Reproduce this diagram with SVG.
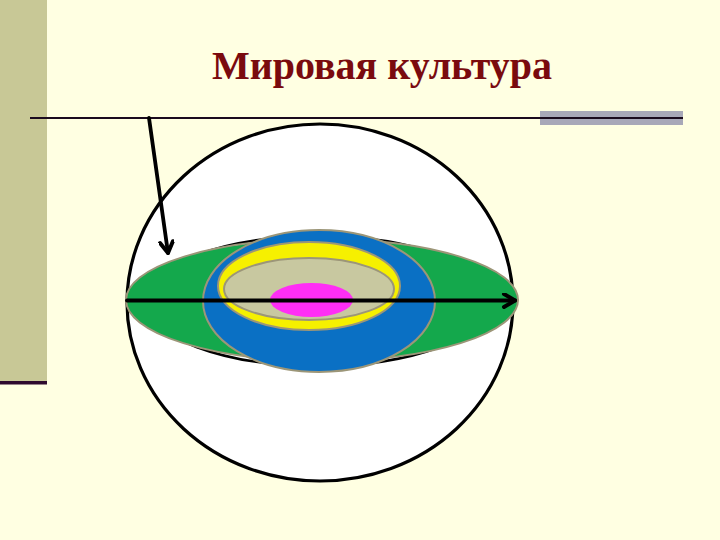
<svg xmlns="http://www.w3.org/2000/svg" width="720" height="540" viewBox="0 0 720 540">
  <style>
    .layer { stroke: #9C9678; stroke-width: 2; }
    .arrow { stroke: #000; stroke-width: 3.8; fill: none; stroke-linecap: round; }
    .title { font-family: "Liberation Serif", "Times New Roman", serif; font-weight: bold; font-size: 40px; fill: #7A0A0E; }
  </style>
  <defs>
    <marker id="chev" viewBox="0 0 16 16" refX="14" refY="8" markerWidth="16" markerHeight="16" markerUnits="userSpaceOnUse" orient="auto">
      <path d="M3,1.5 L14,8 L3,14.5" fill="none" stroke="#000" stroke-width="4" stroke-linecap="round" stroke-linejoin="round"/>
    </marker>
  </defs>
  <rect x="0" y="0" width="720" height="540" fill="#FFFFE2"/>
  <g id="sidebar">
    <rect x="0" y="0" width="47" height="381" fill="#C8C896"/>
    <rect x="0" y="381" width="47" height="3.5" fill="#2E0A2E"/>
  </g>
  <g id="title">
    <text class="title" x="382" y="79" text-anchor="middle">Мировая культура</text>
  </g>
  <g id="header-rule">
    <rect x="540" y="111" width="143" height="14" fill="#A8A8B8"/>
    <line x1="30" y1="118" x2="683" y2="118" stroke="#1A0A1E" stroke-width="2.2"/>
  </g>
  <g id="sphere">
    <ellipse cx="320" cy="302.5" rx="193" ry="178.5" fill="#FFFFFF" stroke="#000" stroke-width="3.2"/>
    <ellipse cx="318" cy="301" rx="172" ry="65" fill="none" stroke="#000" stroke-width="2.5"/>
  </g>
  <g id="green-layer">
    <ellipse class="layer" cx="322" cy="300" rx="196" ry="61" fill="#14A84C"/>
  </g>
  <g id="blue-layer">
    <ellipse class="layer" cx="319" cy="301" rx="116" ry="71" fill="#0A70C4"/>
  </g>
  <g id="yellow-layer">
    <ellipse class="layer" cx="309" cy="286" rx="91" ry="44" fill="#F6F000"/>
  </g>
  <g id="khaki-layer">
    <ellipse class="layer" cx="309" cy="289" rx="85" ry="31" fill="#C8C8A0"/>
  </g>
  <g id="magenta-core">
    <ellipse cx="311.5" cy="300" rx="41.5" ry="17" fill="#FF2EF5"/>
  </g>
  <g id="connectors">
    <line class="arrow" x1="127" y1="300.5" x2="515" y2="300.5" marker-end="url(#chev)"/>
    <line class="arrow" x1="149" y1="118" x2="168" y2="253" marker-end="url(#chev)"/>
  </g>
</svg>
